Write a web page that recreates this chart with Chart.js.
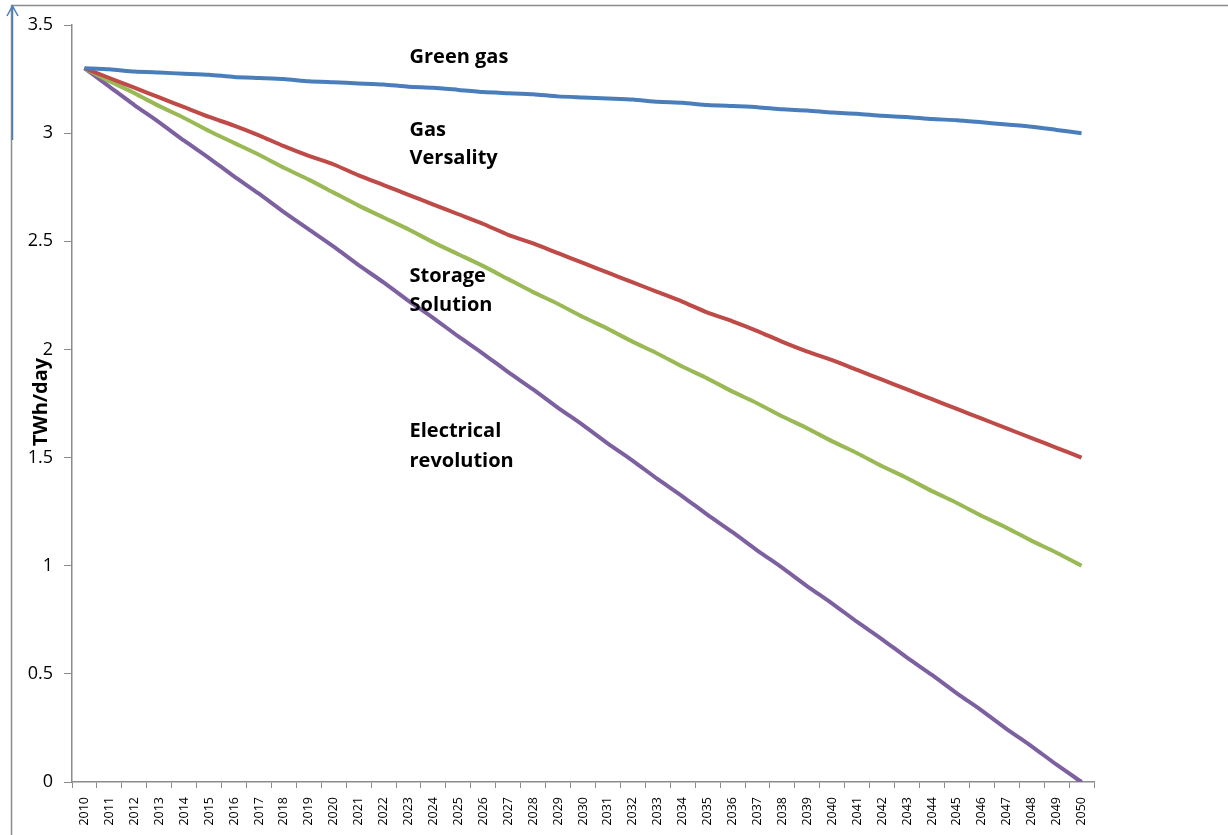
<!DOCTYPE html>
<html lang="en">
<head>
<meta charset="UTF-8">
<title>Gas demand scenarios 2010-2050</title>
<script src="https://cdn.jsdelivr.net/npm/chart.js"></script>
<style>
  html, body {
    margin: 0;
    padding: 0;
    background: #fff;
  }
  #wrap {
    width: 1228px;
    height: 835px;
    position: relative;
  }
</style>
</head>
<body>
<div id="wrap">
  <canvas id="gasChart"></canvas>
</div>

<script>
  // years on the x axis
  var years = [];
  for (var y = 2010; y <= 2050; y++) years.push(String(y));

  // TWh/day per scenario
  var greenGas = [3.30, 3.295, 3.285, 3.28, 3.275, 3.27, 3.26, 3.255, 3.25, 3.24,
    3.235, 3.23, 3.225, 3.215, 3.21, 3.20, 3.19, 3.185, 3.18, 3.17,
    3.165, 3.16, 3.155, 3.145, 3.14, 3.13, 3.125, 3.12, 3.11, 3.105,
    3.095, 3.09, 3.08, 3.075, 3.065, 3.06, 3.05, 3.04, 3.03, 3.015, 3.00];
  var gasVersality = [3.30, 3.255, 3.21, 3.165, 3.12, 3.075, 3.035, 2.99, 2.94, 2.895,
    2.855, 2.805, 2.76, 2.715, 2.67, 2.625, 2.58, 2.53, 2.49, 2.445,
    2.40, 2.355, 2.31, 2.265, 2.22, 2.17, 2.13, 2.085, 2.035, 1.99,
    1.95, 1.905, 1.86, 1.815, 1.77, 1.725, 1.68, 1.635, 1.59, 1.545, 1.50];
  var storageSolution = [3.30, 3.24, 3.185, 3.125, 3.07, 3.01, 2.955, 2.90, 2.84, 2.785,
    2.725, 2.665, 2.61, 2.555, 2.495, 2.44, 2.385, 2.325, 2.265, 2.21,
    2.15, 2.095, 2.035, 1.98, 1.92, 1.865, 1.805, 1.75, 1.69, 1.635,
    1.575, 1.52, 1.46, 1.405, 1.345, 1.29, 1.23, 1.175, 1.115, 1.06, 1.00];
  var electricalRevolution = [3.30, 3.215, 3.13, 3.05, 2.965, 2.885, 2.80, 2.72, 2.635, 2.555,
    2.475, 2.39, 2.31, 2.225, 2.145, 2.06, 1.98, 1.895, 1.815, 1.73,
    1.65, 1.565, 1.485, 1.40, 1.32, 1.235, 1.155, 1.07, 0.99, 0.905,
    0.825, 0.74, 0.66, 0.575, 0.495, 0.41, 0.33, 0.245, 0.165, 0.08, 0.00];

  // scenario names written inside the plot (category index, value)
  var labelText = ['Green gas', 'Gas', 'Versality', 'Storage', 'Solution', 'Electrical', 'revolution'];
  var labelIndex = [13, 13, 13, 13, 13, 13, 13];
  var labelValue = [3.35, 3.015, 2.885, 2.34, 2.205, 1.62, 1.485];

  var fontFam = '"Open Sans", Lato, sans-serif';

  // frame, arrow, axis title and in-plot names
  var decorations = {
    id: 'decorations',
    afterDraw: function (chart) {
      var ctx = chart.ctx;
      var xs = chart.scales.x, ys = chart.scales.y;
      ctx.save();

      // outer frame (left + top edges)
      ctx.strokeStyle = '#8c8c8c';
      ctx.lineWidth = 1.5;
      ctx.beginPath();
      ctx.moveTo(11.5, 835);
      ctx.lineTo(11.5, 5.5);
      ctx.lineTo(1228, 5.5);
      ctx.stroke();

      // blue arrow
      ctx.strokeStyle = '#4a7ebb';
      ctx.lineWidth = 1.5;
      ctx.beginPath();
      ctx.moveTo(12.5, 140);
      ctx.lineTo(12.5, 6);
      ctx.moveTo(7, 16);
      ctx.lineTo(12.5, 6);
      ctx.lineTo(18, 16);
      ctx.stroke();

      // y axis title
      ctx.fillStyle = '#000';
      ctx.font = 'bold 20px ' + fontFam;
      ctx.textAlign = 'center';
      ctx.textBaseline = 'middle';
      ctx.translate(41, 402);
      ctx.rotate(-Math.PI / 2);
      ctx.fillText('TWh/day', 0, 0);
      ctx.setTransform(1, 0, 0, 1, 0, 0);

      // scenario names
      ctx.font = 'bold 20px ' + fontFam;
      ctx.textAlign = 'left';
      for (var i = 0; i < labelText.length; i++) {
        var px = xs.getPixelForValue(labelIndex[i]) + 1;
        var py = ys.getPixelForValue(labelValue[i]);
        ctx.fillText(labelText[i], px, py);
      }
      ctx.restore();
    }
  };

  var ctx = document.getElementById('gasChart').getContext('2d');

  new Chart(ctx, {
    type: 'line',
    data: {
      labels: years,
      datasets: [
        { label: 'Green gas', data: greenGas, borderColor: '#4a7ebb' },
        { label: 'Gas Versality', data: gasVersality, borderColor: '#be4b48' },
        { label: 'Storage Solution', data: storageSolution, borderColor: '#98b954' },
        { label: 'Electrical revolution', data: electricalRevolution, borderColor: '#7d60a0' }
      ]
    },
    options: {
      responsive: true,
      maintainAspectRatio: false,
      animation: false,
      layout: { padding: { left: 0, right: 134, top: 25, bottom: 0 } },
      elements: {
        point: { radius: 0 },
        line: { borderWidth: 4, tension: 0.2, fill: false }
      },
      plugins: {
        legend: { display: false },
        tooltip: { enabled: false }
      },
      scales: {
        x: {
          offset: true,
          grid: {
            display: true,
            offset: true,
            drawOnChartArea: false,
            drawTicks: true,
            tickLength: 6,
            color: '#8c8c8c'
          },
          border: { color: '#8c8c8c', width: 1.5 },
          ticks: {
            autoSkip: false,
            minRotation: 90,
            maxRotation: 90,
            color: '#000',
            padding: 9,
            font: { family: fontFam, size: 12.5 }
          },
          afterFit: function (scale) { scale.height = 53; }
        },
        y: {
          min: 0,
          max: 3.5,
          ticks: {
            stepSize: 0.5,
            color: '#000',
            padding: 11,
            font: { family: fontFam, size: 18 },
            callback: function (v) { return String(v); }
          },
          grid: {
            display: true,
            drawOnChartArea: false,
            drawTicks: true,
            tickLength: 8,
            color: '#8c8c8c'
          },
          border: { color: '#8c8c8c', width: 1.5 },
          afterFit: function (scale) { scale.width = 72; }
        }
      }
    },
    plugins: [decorations]
  });
</script>
</body>
</html>
